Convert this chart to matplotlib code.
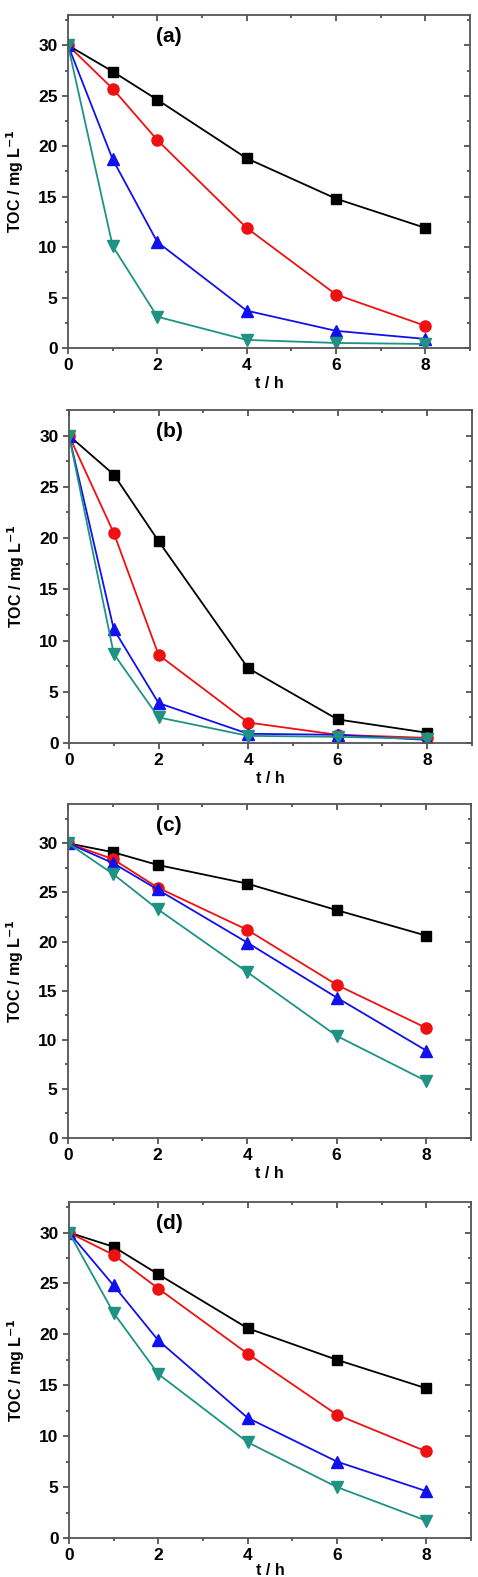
import matplotlib
matplotlib.use('Agg')
import matplotlib.pyplot as plt
from matplotlib.ticker import MultipleLocator

plt.rcParams['font.family'] = ['Liberation Sans', 'DejaVu Sans']
plt.rcParams['font.weight'] = 'bold'

t = [0, 1, 2, 4, 6, 8]
panel_labels = ['(a)', '(b)', '(c)', '(d)']

# TOC / mg L-1 for the four series in each panel
black = [[30, 27.4, 24.6, 18.8, 14.8, 11.9],
         [30, 26.2, 19.7, 7.3, 2.3, 1.0],
         [30, 29.1, 27.8, 25.9, 23.2, 20.6],
         [30, 28.6, 25.9, 20.6, 17.5, 14.7]]
red = [[30, 25.7, 20.6, 11.9, 5.3, 2.2],
       [30, 20.5, 8.6, 2.0, 0.8, 0.5],
       [30, 28.4, 25.5, 21.2, 15.6, 11.2],
       [30, 27.8, 24.5, 18.1, 12.1, 8.5]]
blue = [[30, 18.7, 10.5, 3.7, 1.7, 0.9],
        [30, 11.1, 3.9, 0.9, 0.8, 0.3],
        [30, 28.0, 25.3, 19.9, 14.3, 8.9],
        [30, 24.8, 19.4, 11.8, 7.5, 4.6]]
teal = [[30, 10.1, 3.1, 0.8, 0.5, 0.4],
        [30, 8.7, 2.5, 0.7, 0.6, 0.4],
        [30, 26.9, 23.3, 16.9, 10.4, 5.8],
        [30, 22.1, 16.1, 9.4, 5.0, 1.7]]
ymax = [33, 32.5, 34, 33]

W, H = 478, 1577
fig = plt.figure(figsize=(W / 100, H / 100), dpi=100)

# axes boxes in pixels: left, right, top, bottom
boxes = [(68, 470, 15, 348), (69, 472, 410, 743),
         (68, 471, 804, 1138), (69, 471, 1202, 1538)]

series = [(black, 'black', 's', 7), (red, '#ee1111', 'o', 8),
          (blue, '#1111ee', '^', 8), (teal, '#1f9283', 'v', 8)]


def style_ticks(axis, direction):
    axis.tick_params(which='both', direction=direction, color='#444444', width=1.2)
    axis.tick_params(which='major', length=4)
    axis.tick_params(which='minor', length=2.5)


for i, (l, r, tp, b) in enumerate(boxes):
    ax = fig.add_axes([l / W, 1 - b / H, (r - l) / W, (b - tp) / H])
    for data, c, m, ms in series:
        ax.plot(t, data[i], color=c, marker=m, markersize=ms, lw=1.3)
    ax.set_xlim(0, 9)
    ax.set_ylim(0, ymax[i])
    ax.xaxis.set_major_locator(MultipleLocator(2))
    ax.xaxis.set_minor_locator(MultipleLocator(1))
    ax.yaxis.set_major_locator(MultipleLocator(5))
    ax.yaxis.set_minor_locator(MultipleLocator(2.5))
    ax.tick_params(labelsize=12.5)
    style_ticks(ax, 'out')
    for s in ax.spines.values():
        s.set_color('#555555')
        s.set_linewidth(1.3)
    ax.set_xlabel('t / h', fontsize=11.5, fontweight='bold',
                  labelpad=2 if i < 3 else 0)
    ax.set_ylabel('TOC / mg L$^{\\mathbf{-1}}$', fontsize=11.5,
                  fontweight='bold', labelpad=9)
    ax.text(0.25, 0.935, panel_labels[i], transform=ax.transAxes,
            ha='center', va='center', fontsize=15, fontweight='bold')

    # mirror ticks on top/right pointing inward
    top = ax.secondary_xaxis('top')
    top.xaxis.set_major_locator(MultipleLocator(2))
    top.xaxis.set_minor_locator(MultipleLocator(1))
    top.tick_params(labeltop=False)
    style_ticks(top, 'in')
    top.spines['top'].set_visible(False)
    right = ax.secondary_yaxis('right')
    right.yaxis.set_major_locator(MultipleLocator(5))
    right.yaxis.set_minor_locator(MultipleLocator(2.5))
    right.tick_params(labelright=False)
    style_ticks(right, 'in')
    right.spines['right'].set_visible(False)

fig.savefig('out.png', dpi=100)
